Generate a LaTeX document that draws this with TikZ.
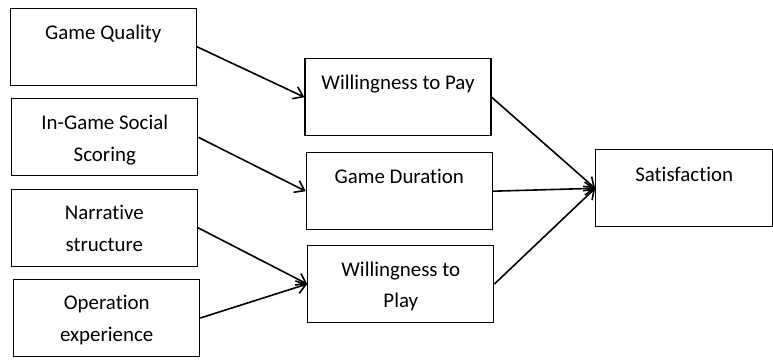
\documentclass[tikz,border=0pt]{standalone}
\usepackage{fontspec}
\setmainfont{Carlito}[Ligatures=NoCommon]
\usetikzlibrary{arrows.meta, positioning, calc}
\tikzset{
	factor/.style={rectangle, draw=black, line width=1.2pt, minimum width=186pt, minimum height=77pt, inner sep=0pt},
	boxtext/.style={anchor=north, align=center, inner sep=0pt, font=\fontsize{20.9}{31.6}\selectfont, execute at begin node=\strut},
	patharrow/.style={-{Straight Barb[length=9pt, width=13pt]}, line width=1.6pt},
}
\begin{document}
\begin{tikzpicture}[x=1pt, y=-1pt]
	\useasboundingbox (0,0) rectangle (773,359);
	% left column
	\node[factor] (gq)  at (103.3,46.7) {};
	\node[factor] (igs) at (104.8,137.3) {};
	\node[factor] (nar) at (104.3,227.7) {};
	\node[factor] (ope) at (106.7,318) {};
	% middle column
	\node[factor] (wpay)  at (398,97.2) {};
	\node[factor] (dur)   at (399.3,191.2) {};
	\node[factor] (wplay) at (400.8,284) {};
	% outcome
	\node[factor, minimum width=177pt] (sat) at (684.2,188.3) {};
	% labels
	\node[boxtext] (gqt)    at ($(gq.north)+(0,9.5)$) {Game Quality};
	\node[boxtext] (igst)   at ($(igs.north)+(0,16.5)$) {In-Game Social\\Scoring};
	\node[boxtext] (nart)   at ($(nar.north)+(0,16.5)$) {Narrative\\structure};
	\node[boxtext] (opet)   at ($(ope.north)+(0,16.5)$) {Operation\\experience};
	\node[boxtext] (wpayt)  at ($(wpay.north)+(0,9.5)$) {Willingness to Pay};
	\node[boxtext] (durt)   at ($(dur.north)+(0,9.5)$) {Game Duration};
	\node[boxtext] (wplayt) at ($(wplay.north)+(0,16.5)$) {Willingness to\\Play};
	\node[boxtext] (satt)   at ($(sat.north)+(0,9.5)$) {Satisfaction};
	% paths
	\draw[patharrow] (gq.east)  -- (wpay.west);
	\draw[patharrow] (igs.east) -- (dur.west);
	\draw[patharrow] (nar.east) -- (wplay.west);
	\draw[patharrow] (ope.east) -- (wplay.west);
	\draw[patharrow] (wpay.east)  -- (sat.west);
	\draw[patharrow] (dur.east)   -- (sat.west);
	\draw[patharrow] (wplay.east) -- (sat.west);
\end{tikzpicture}
\end{document}
